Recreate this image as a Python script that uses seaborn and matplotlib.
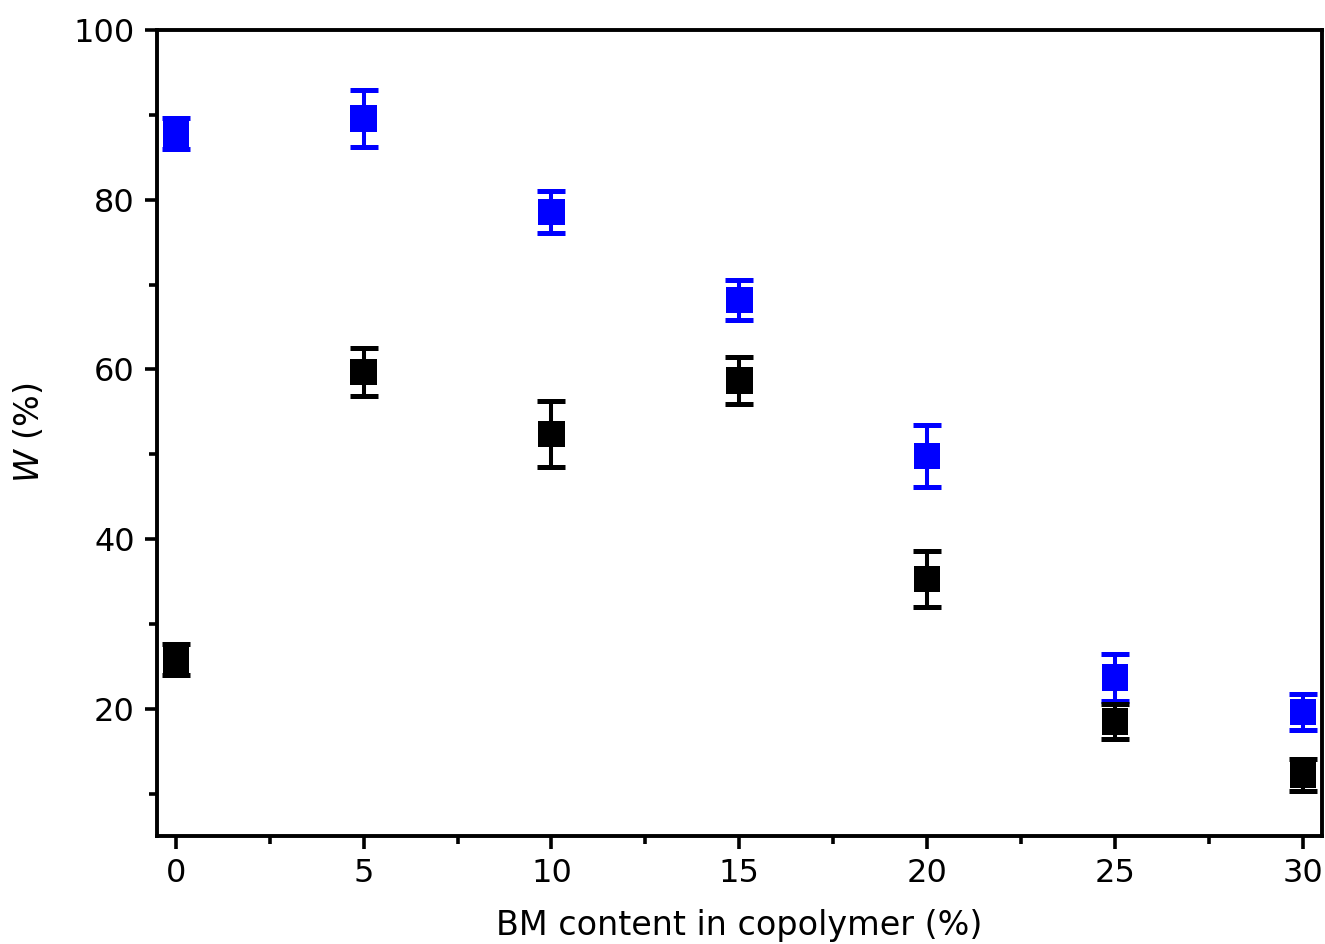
import matplotlib
matplotlib.use("Agg")
import matplotlib.pyplot as plt
import seaborn as sns
import pandas as pd
import numpy as np
from matplotlib.ticker import MultipleLocator

bm_content = [0, 5, 10, 15, 20, 25, 30]
blue_vals = [87.8, 89.6, 78.6, 68.2, 49.8, 23.7, 19.6]
blue_err = [1.8, 3.4, 2.5, 2.4, 3.6, 2.8, 2.1]
black_vals = [25.8, 59.7, 52.4, 58.7, 35.3, 18.5, 12.2]
black_err = [1.8, 2.8, 3.9, 2.8, 3.3, 2.1, 1.9]

sns.set_theme(style="ticks")
plt.rcParams['font.family'] = ['DejaVu Sans']

fig = plt.figure(figsize=(13.25, 9.44), dpi=100)
ax = fig.add_axes([0.1185, 0.1144, 0.879, 0.8536])

df = pd.DataFrame({
    "x": bm_content * 2,
    "y": blue_vals + black_vals,
    "s": ["blue"] * 7 + ["black"] * 7,
})

for vals, errs, col in [(blue_vals, blue_err, "#0000ff"), (black_vals, black_err, "#000000")]:
    ax.errorbar(bm_content, vals, yerr=errs, fmt="none", ecolor=col,
                elinewidth=2.9, capsize=10, capthick=3.6, zorder=2)

sns.scatterplot(data=df, x="x", y="y", hue="s",
                palette={"blue": "#0000ff", "black": "#000000"},
                marker="s", s=360, edgecolor="none", legend=False, ax=ax, zorder=3)

ax.set_xlim(-0.5, 30.5)
ax.set_ylim(5, 100)
ax.xaxis.set_major_locator(MultipleLocator(5))
ax.xaxis.set_minor_locator(MultipleLocator(2.5))
ax.yaxis.set_major_locator(MultipleLocator(20))
ax.yaxis.set_minor_locator(MultipleLocator(10))
ax.set_yticks([20, 40, 60, 80, 100])

for sp in ax.spines.values():
    sp.set_linewidth(2.8)
    sp.set_color("black")
    sp.set_visible(True)

ax.tick_params(axis="both", which="major", direction="out", length=9, width=2.6,
               labelsize=23, labelcolor="black", color="black", pad=7)
ax.tick_params(axis="both", which="minor", direction="out", length=6, width=2.6, color="black")
ax.tick_params(top=False, right=False, which="both")

ax.set_xlabel("BM content in copolymer (%)", fontsize=24, labelpad=14, color="black")
ax.set_ylabel(r"$\it{W}$ (%)", fontsize=24, labelpad=20, color="black")

fig.savefig("out.png", dpi=100)
